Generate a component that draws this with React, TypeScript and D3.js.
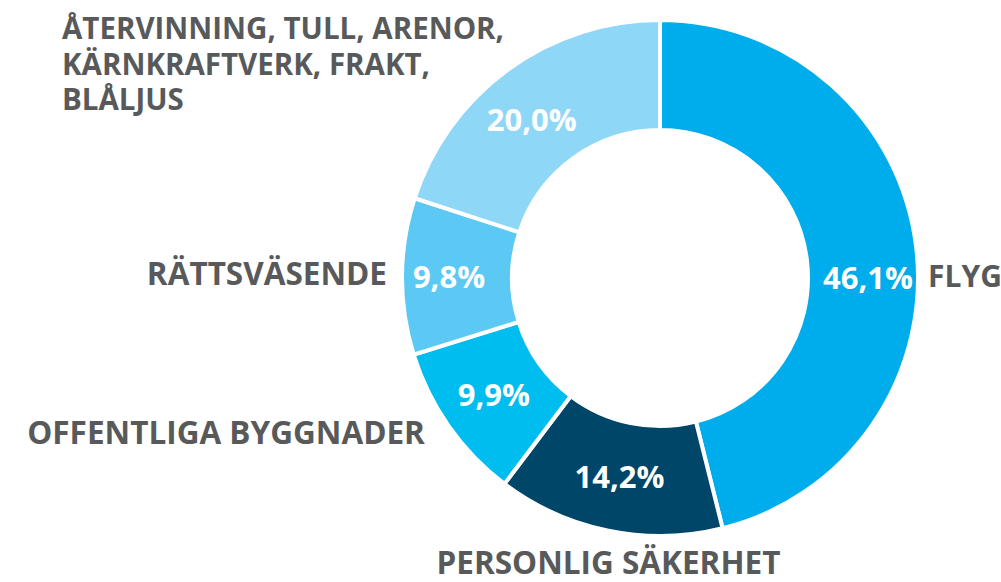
import React from "react";
import * as d3 from "d3";

const categories = [
  "FLYG",
  "PERSONLIG SÄKERHET",
  "OFFENTLIGA BYGGNADER",
  "RÄTTSVÄSENDE",
  "ÅTERVINNING, TULL, ARENOR, KÄRNKRAFTVERK, FRAKT, BLÅLJUS",
];
const values = [46.1, 14.2, 9.9, 9.8, 20.0];
const valueLabels = ["46,1%", "14,2%", "9,9%", "9,8%", "20,0%"];
const colors = ["#00adec", "#004668", "#00bdef", "#5bc9f4", "#8fd7f7"];
const labelLines = [
  ["FLYG"],
  ["PERSONLIG SÄKERHET"],
  ["OFFENTLIGA BYGGNADER"],
  ["RÄTTSVÄSENDE"],
  ["ÅTERVINNING, TULL, ARENOR,", "KÄRNKRAFTVERK, FRAKT,", "BLÅLJUS"],
];

const W = 1001;
const H = 582;
const cx = 660;
const cy = 278;
const R = 258;
const r = 148;
const FONT = "'Open Sans', sans-serif";
const GREY = "#58595b";

export default function App() {
  const data = categories.map((c, i) => ({ c, v: values[i], i }));
  const pie = d3
    .pie<any>()
    .value((d) => d.v)
    .sort(null);
  const arcs = pie(data);
  const arc = d3.arc<any>().innerRadius(r).outerRadius(R);
  const mid = (r + R) / 2;

  // category label placement relative to outer edge of each slice
  const catLayout = (a: any, i: number) => {
    const m = (a.startAngle + a.endAngle) / 2;
    const ox = cx + R * Math.sin(m);
    const oy = cy - R * Math.cos(m);
    switch (i) {
      case 0:
        return { x: cx + R + 10, y: cy - 2, anchor: "start", size: 30 };
      case 1:
        return { x: ox, y: oy + 32, anchor: "middle", size: 31.5 };
      case 2:
        return { x: ox - 24, y: oy + 7, anchor: "end", size: 31.5 };
      case 3:
        return { x: cx - R - 15, y: cy - 4, anchor: "end", size: 31.5 };
      default:
        return { x: 62, y: oy - 5, anchor: "start", size: 29.5 };
    }
  };

  return (
    <svg
      width={W}
      height={H}
      style={{ position: "absolute", left: 0, top: 0, background: "#fff" }}
      fontFamily={FONT}
    >
      <g transform={`translate(${cx},${cy})`}>
        {arcs.map((a, i) => (
          <path
            key={i}
            d={arc(a) as string}
            fill={colors[i]}
            stroke="#fff"
            strokeWidth={4}
            strokeLinejoin="miter"
          />
        ))}
      </g>
      {arcs.map((a, i) => {
        let m = (a.startAngle + a.endAngle) / 2;
        if (i === 0) m = Math.PI / 2;
        const x = cx + mid * Math.sin(m) + (i === 0 ? 5 : 0) + (i === 3 ? -8 : 0) + (i === 4 ? -9 : 0);
        const y = cy - mid * Math.cos(m) + (i === 4 ? 6 : 0);
        return (
          <text
            key={i}
            x={x}
            y={y}
            dy="0.35em"
            textAnchor="middle"
            fill="#fff"
            fontWeight={700}
            fontSize={31}
          >
            {valueLabels[i]}
          </text>
        );
      })}
      {arcs.map((a, i) => {
        const L = catLayout(a, i);
        const lines = labelLines[i];
        const lh = 35.5;
        const y0 = L.y - ((lines.length - 1) * lh) / 2;
        return (
          <text
            key={i}
            textAnchor={L.anchor}
            fill={GREY}
            fontWeight={700}
            fontSize={L.size}
          >
            {lines.map((t, j) => (
              <tspan key={j} x={L.x} y={y0 + j * lh} dy="0.35em">
                {t}
              </tspan>
            ))}
          </text>
        );
      })}
    </svg>
  );
}
